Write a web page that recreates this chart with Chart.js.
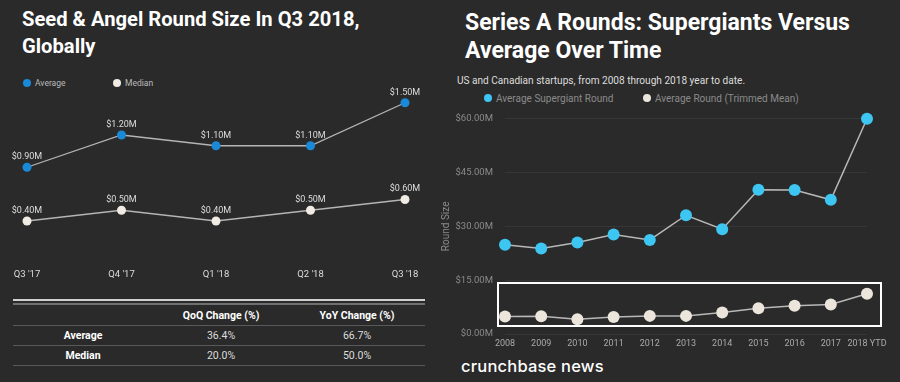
<!DOCTYPE html>
<html>
<head>
<meta charset="utf-8">
<script src="https://cdn.jsdelivr.net/npm/chart.js@4.4.1/dist/chart.umd.min.js"></script>
<style>
  html, body { margin:0; padding:0; }
  body { width:900px; height:382px; background:#2a2a2a; position:relative; overflow:hidden; font-family: Roboto, "Noto Sans", sans-serif; }
  .abs { position:absolute; }
  #t1 { left:22px; top:6px; color:#fff; font-weight:700; font-size:20.2px; line-height:27px; }
  #t2 { left:465px; top:9px; color:#fff; font-weight:700; font-size:23px; line-height:28px; }
  #sub { left:457px; top:75px; color:#ddd; font-size:10.1px; }
  .leg { position:absolute; font-size:8.5px; color:#bbb; white-space:nowrap; }
  .leg .dot { display:inline-block; width:8px; height:8px; border-radius:50%; vertical-align:middle; margin-right:4px; position:relative; top:-1px;}
  .leg .item { position:absolute; }
  #box { left:497px; top:282px; width:385px; height:45px; border:2px solid #fff; box-sizing:border-box; pointer-events:none; }
  #logo { left:461px; top:356px; color:#fff; font-family: Inter, Lato, sans-serif; font-weight:500; font-size:16.5px; letter-spacing:0.2px; }
  table { position:absolute; left:13px; top:299px; width:412px; border-collapse:collapse; font-size:10.5px; color:#ddd; }
  td, th { text-align:center; padding:0; height:19px; border-bottom:1.5px solid #5a5a5a; }
  th { font-weight:700; color:#fff; }
  td.rl { font-weight:700; color:#fff; }
  #topline1 { left:13px; top:299px; width:412px; height:2px; background:#d0d0d0; }
  #topline2 { left:13px; top:303px; width:412px; height:2px; background:#707070; }
</style>
</head>
<body>
<div id="t1" class="abs">Seed &amp; Angel Round Size In Q3 2018,<br>Globally</div>
<div id="t2" class="abs">Series A Rounds: Supergiants Versus<br>Average Over Time</div>
<div id="sub" class="abs">US and Canadian startups, from 2008 through 2018 year to date.</div>

<div id="leg1" class="leg"></div>
<div id="leg2" class="leg"></div>

<div class="abs" style="left:0;top:80px;width:440px;height:210px;"><canvas id="c1"></canvas></div>
<div class="abs" style="left:440px;top:101px;width:460px;height:251px;"><canvas id="c2"></canvas></div>
<div id="box" class="abs"></div>

<div id="topline1" class="abs"></div>
<div id="topline2" class="abs"></div>
<table id="tbl" style="top:306px;"></table>

<div id="logo" class="abs">crunchbase news</div>

<script>
// ---- Left chart data ----
const quarters = ["Q3 '17", "Q4 '17", "Q1 '18", "Q2 '18", "Q3 '18"];
const seedAverage = [0.9, 1.2, 1.1, 1.1, 1.5];
const seedMedian = [0.4, 0.5, 0.4, 0.5, 0.6];

// ---- Table data ----
const tableColumns = ["QoQ Change (%)", "YoY Change (%)"];
const tableRows = ["Average", "Median"];
const qoqChange = ["36.4%", "20.0%"];
const yoyChange = ["66.7%", "50.0%"];

// ---- Right chart data ----
const years = ["2008","2009","2010","2011","2012","2013","2014","2015","2016","2017","2018 YTD"];
const supergiantRound = [24.9, 23.8, 25.5, 27.7, 26.2, 33.1, 29.2, 40.2, 40.1, 37.4, 60.0];
const trimmedMeanRound = [4.85, 4.95, 4.1, 4.75, 5.05, 5.05, 6.0, 7.2, 7.85, 8.2, 11.2];
const rightTicks = [0, 15, 30, 45, 60];

const fmtM = v => '$' + v.toFixed(2) + 'M';

// table
(function(){
  const t = document.getElementById('tbl');
  let h = '<tr><th style="width:34%"></th>' + tableColumns.map(c=>'<th style="width:33%">'+c+'</th>').join('') + '</tr>';
  tableRows.forEach((r,i)=>{ h += '<tr><td class="rl">'+r+'</td><td>'+qoqChange[i]+'</td><td>'+yoyChange[i]+'</td></tr>'; });
  t.innerHTML = h;
})();

const valueLabels = {
  id: 'valueLabels',
  afterDatasetsDraw(chart, args, opts) {
    if (!opts.enabled) return;
    const ctx = chart.ctx;
    ctx.save();
    ctx.font = '9px Roboto';
    ctx.fillStyle = '#dddddd';
    ctx.textAlign = 'center';
    ctx.textBaseline = 'middle';
    chart.data.datasets.forEach((ds, di) => {
      const meta = chart.getDatasetMeta(di);
      meta.data.forEach((pt, i) => {
        ctx.fillText(fmtM(ds.data[i]), pt.x, pt.y - 10.5);
      });
    });
    ctx.restore();
  }
};

function buildLegend(el, datasets, left, top, positions, fontSize, color) {
  el.style.left = left + 'px';
  el.style.top = top + 'px';
  el.style.fontSize = fontSize + 'px';
  el.style.color = color;
  el.innerHTML = datasets.map((d,i)=>'<span class="item" style="left:'+positions[i]+'px"><span class="dot" style="background:'+d.pointBackgroundColor+'"></span>'+d.label+'</span>').join('');
}

const ds1 = [
  { label:'Average', data: seedAverage, borderColor:'#b5b5b5', borderWidth:1.3, pointBackgroundColor:'#1a8ad8', pointBorderColor:'#1a8ad8', pointRadius:4.5, pointBorderWidth:0, tension:0, clip:false },
  { label:'Median', data: seedMedian, borderColor:'#b5b5b5', borderWidth:1.3, pointBackgroundColor:'#f0ece4', pointBorderColor:'#f0ece4', pointRadius:4.5, pointBorderWidth:0, tension:0, clip:false }
];

new Chart(document.getElementById('c1'), {
  type:'line',
  data:{ labels: quarters, datasets: ds1 },
  options:{
    responsive:true, maintainAspectRatio:false, animation:false,
    layout:{ padding:{ left:27, right:35, top:12, bottom:8 } },
    plugins:{ legend:{display:false}, tooltip:{enabled:false}, valueLabels:{enabled:true} },
    scales:{
      x:{ offset:false, grid:{display:false, drawTicks:false}, border:{display:false},
          ticks:{ color:'#dddddd', font:{family:'Roboto', size:9.5}, padding:5, maxRotation:0 },
          afterFit(s){ s.height = 18; } },
      y:{ display:false, min:0, max:1.6 }
    }
  },
  plugins:[valueLabels]
});

const ds2 = [
  { label:'Average Supergiant Round', data: supergiantRound, borderColor:'#b8b8b8', borderWidth:1.5, pointBackgroundColor:'#3ec6f2', pointBorderColor:'#3ec6f2', pointRadius:6, pointBorderWidth:0, tension:0, clip:false },
  { label:'Average Round (Trimmed Mean)', data: trimmedMeanRound, borderColor:'#b8b8b8', borderWidth:1.5, pointBackgroundColor:'#ebe5dc', pointBorderColor:'#ebe5dc', pointRadius:6, pointBorderWidth:0, tension:0, clip:false }
];

new Chart(document.getElementById('c2'), {
  type:'line',
  data:{ labels: years, datasets: ds2 },
  options:{
    responsive:true, maintainAspectRatio:false, animation:false,
    layout:{ padding:{ left:0, right:33, top:8, bottom:0 } },
    plugins:{ legend:{display:false}, tooltip:{enabled:false} },
    scales:{
      x:{ offset:false, grid:{display:false, drawTicks:false}, border:{display:false},
          ticks:{ color:'#aaaaaa', font:{family:'Roboto', size:9}, padding:4, maxRotation:0, autoSkip:false },
          afterFit(s){ s.height = 18; } },
      y:{ min:0, max:60, grid:{ color:'#363636', drawTicks:false }, border:{display:false},
          afterBuildTicks(s){ s.ticks = rightTicks.map(v=>({value:v})); },
          ticks:{ color:'#8a8a8a', font:{family:'Roboto', size:9.5}, padding:12, callback: v => fmtM(v) },
          title:{ display:true, text:'Round Size', color:'#8a8a8a', font:{family:'Roboto', size:10}, padding:{top:0,bottom:0} },
          afterFit(s){ s.width = 65; } }
    }
  }
});

buildLegend(document.getElementById('leg1'), ds1, 23, 78, [0, 90], 8.5, '#bbbbbb');
buildLegend(document.getElementById('leg2'), ds2, 484, 93, [0, 159], 10, '#8a8a8a');
</script>
</body>
</html>
